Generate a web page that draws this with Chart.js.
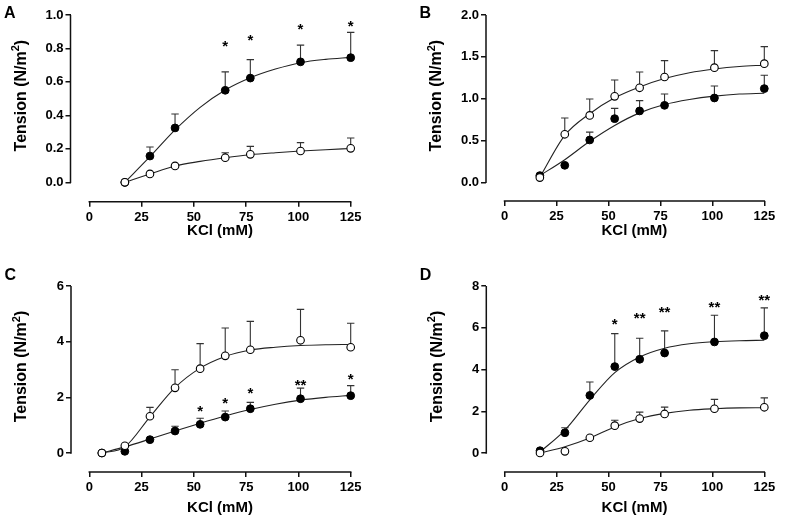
<!DOCTYPE html>
<html>
<head>
<meta charset="utf-8">
<script src="https://cdn.jsdelivr.net/npm/chart.js@4.4.1/dist/chart.umd.min.js"></script>
<style>
  body { margin: 0; background: #fff; }
  #fig { position: relative; width: 785px; height: 524px; }
  #fig canvas { position: absolute; }
</style>
</head>
<body>
<div id="fig">
  <canvas id="panelA" width="392" height="262" style="left:0;top:0"></canvas>
  <canvas id="panelB" width="393" height="262" style="left:392px;top:0"></canvas>
  <canvas id="panelC" width="392" height="262" style="left:0;top:262px"></canvas>
  <canvas id="panelD" width="393" height="262" style="left:392px;top:262px"></canvas>
</div>
<script>
// shared
const xTicks = [0, 25, 50, 75, 100, 125];
const fitX = [17, 29, 41, 53, 65, 77, 89, 101, 113, 125];

// panel A
const kclA = [17, 29, 41, 65, 77, 101, 125];
const openA = [0, 0.05, 0.098, 0.147, 0.167, 0.187, 0.203];
const openSemA = [0, 0, 0, 0.03, 0.048, 0.05, 0.062];
const filledA = [0, 0.157, 0.325, 0.55, 0.623, 0.72, 0.745];
const filledSemA = [0, 0.054, 0.083, 0.11, 0.11, 0.10, 0.151];
const fitOpenA = [0, 0.05, 0.097, 0.125, 0.147, 0.165, 0.177, 0.187, 0.195, 0.202];
const fitFilledA = [0, 0.153, 0.313, 0.448, 0.552, 0.625, 0.677, 0.715, 0.735, 0.747];
const starXA = [65, 77, 101, 125];
const starYA = [0.84, 0.876, 0.94, 0.954];
const starTextA = ['*', '*', '*', '*'];
const yTicksA = [0, 0.2, 0.4, 0.6, 0.8, 1.0];

// panel B
const kclB = [17, 29, 41, 53, 65, 77, 101, 125];
const openB = [0.056, 0.574, 0.80, 1.028, 1.13, 1.259, 1.37, 1.418];
const openSemB = [0, 0.195, 0.196, 0.195, 0.189, 0.195, 0.204, 0.204];
const filledB = [0.08, 0.203, 0.506, 0.761, 0.853, 0.92, 1.008, 1.12];
const filledSemB = [0, 0, 0.094, 0.123, 0.123, 0.136, 0.143, 0.159];
const fitOpenB = [0.06, 0.56, 0.82, 1.01, 1.14, 1.24, 1.31, 1.355, 1.385, 1.40];
const fitFilledB = [0.08, 0.27, 0.49, 0.68, 0.83, 0.93, 0.99, 1.03, 1.055, 1.065];
const yTicksB = [0, 0.5, 1.0, 1.5, 2.0];

// panel C
const kclC = [6, 17, 29, 41, 53, 65, 77, 101, 125];
const openC = [0, 0.26, 1.32, 2.34, 3.03, 3.49, 3.71, 4.05, 3.80];
const openSemC = [0, 0, 0.32, 0.65, 0.9, 1.0, 1.02, 1.11, 0.86];
const filledC = [0, 0.06, 0.48, 0.79, 1.03, 1.29, 1.59, 1.95, 2.06];
const filledSemC = [0, 0, 0, 0.17, 0.22, 0.22, 0.23, 0.38, 0.36];
const fitXC = [6, 17, 29, 41, 53, 65, 77, 89, 101, 113, 125];
const fitOpenC = [0, 0.22, 1.3, 2.35, 3.05, 3.47, 3.7, 3.8, 3.86, 3.89, 3.9];
const fitFilledC = [0, 0.22, 0.5, 0.79, 1.07, 1.33, 1.56, 1.75, 1.9, 2.0, 2.07];
const starXC = [53, 65, 77, 101, 125];
const starYC = [1.63, 1.95, 2.31, 2.58, 2.79];
const starTextC = ['*', '*', '*', '**', '*'];
const yTicksC = [0, 2, 4, 6];

// panel D
const kclD = [17, 29, 41, 53, 65, 77, 101, 125];
const openD = [0, 0.08, 0.73, 1.31, 1.65, 1.87, 2.12, 2.19];
const openSemD = [0, 0, 0, 0.26, 0.31, 0.33, 0.45, 0.45];
const filledD = [0.11, 0.97, 2.76, 4.14, 4.49, 4.79, 5.32, 5.62];
const filledSemD = [0, 0.24, 0.64, 1.58, 1.01, 1.06, 1.28, 1.33];
const fitOpenD = [0, 0.3, 0.72, 1.25, 1.65, 1.9, 2.05, 2.12, 2.16, 2.17];
const fitFilledD = [0.05, 1.1, 2.55, 3.85, 4.6, 5.02, 5.23, 5.33, 5.38, 5.4];
const starXD = [53, 65, 77, 101, 125];
const starYD = [6.36, 6.66, 6.92, 7.16, 7.51];
const starTextD = ['*', '**', '**', '**', '**'];
const yTicksD = [0, 2, 4, 6, 8];

const FONT = '"Liberation Sans", Arial, sans-serif';

function pts(xs, ys) {
    return xs.map((x, i) => ({x: x, y: ys[i]}));
}

// error bars, offset axis lines, labels and stars
const decor = {
    id: 'decor',
    beforeDatasetsDraw(chart, args, o) {
        const ctx = chart.ctx, xs = chart.scales.x, ys = chart.scales.y;
        const area = chart.chartArea;
        ctx.save();
        ctx.strokeStyle = '#111';
        ctx.lineWidth = 1.5;
        ctx.beginPath();
        ctx.moveTo(area.left, ys.getPixelForValue(0) + 0.75);
        ctx.lineTo(area.left, ys.getPixelForValue(ys.max));
        ctx.moveTo(xs.getPixelForValue(0) - 0.75, area.bottom);
        ctx.lineTo(xs.getPixelForValue(xs.max) + 0.75, area.bottom);
        ctx.stroke();

        ctx.strokeStyle = '#333';
        ctx.lineWidth = 1.1;
        o.errors.forEach(e => {
            e.x.forEach((xv, i) => {
                if (!e.sem[i]) return;
                const px = xs.getPixelForValue(xv);
                const py = ys.getPixelForValue(e.y[i]);
                const pt = ys.getPixelForValue(e.y[i] + e.sem[i]);
                ctx.beginPath();
                ctx.moveTo(px, py);
                ctx.lineTo(px, pt);
                ctx.moveTo(px - 3.7, pt);
                ctx.lineTo(px + 3.7, pt);
                ctx.stroke();
            });
        });
        ctx.restore();
    },
    afterDraw(chart, args, o) {
        const ctx = chart.ctx, xs = chart.scales.x, ys = chart.scales.y;
        const area = chart.chartArea;
        ctx.save();
        ctx.fillStyle = '#000';

        ctx.font = 'bold 16px ' + FONT;
        ctx.textAlign = 'left';
        ctx.textBaseline = 'alphabetic';
        ctx.fillText(o.letter, area.left - 66.5, 17.5);

        // x title
        ctx.font = 'bold 15px ' + FONT;
        ctx.textAlign = 'center';
        const xMid = (xs.getPixelForValue(0) + xs.getPixelForValue(xs.max)) / 2;
        ctx.fillText('KCl (mM)', xMid, area.bottom + o.titleGap);

        // y title, with a real superscript 2
        const yMid = (ys.getPixelForValue(0) + ys.getPixelForValue(ys.max)) / 2 - 3;
        const big = 'bold 16px ' + FONT, small = 'bold 11px ' + FONT;
        ctx.font = big;
        const w1 = ctx.measureText('Tension (N/m').width, w3 = ctx.measureText(')').width;
        ctx.font = small;
        const w2 = ctx.measureText('2').width;
        const total = w1 + w2 + w3;
        ctx.save();
        ctx.translate(area.left - 44.8, yMid);
        ctx.rotate(-Math.PI / 2);
        ctx.textAlign = 'left';
        ctx.font = big;
        ctx.fillText('Tension (N/m', -total / 2, 0);
        ctx.font = small;
        ctx.fillText('2', -total / 2 + w1, -6.5);
        ctx.font = big;
        ctx.fillText(')', -total / 2 + w1 + w2, 0);
        ctx.restore();

        // significance stars
        ctx.font = 'bold 15px ' + FONT;
        ctx.textAlign = 'center';
        o.stars.x.forEach((xv, i) => {
            ctx.fillText(o.stars.text[i], xs.getPixelForValue(xv), ys.getPixelForValue(o.stars.y[i]) + 8.8);
        });
        ctx.restore();
    }
};

function makePanel(id, p) {
    const xMin = -(p.zeroX - p.axisLeft) * 125 / (p.right - p.zeroX);
    const yMax = p.yTicks[p.yTicks.length - 1];
    const yMin = -(p.axisBottom - p.zeroY) * yMax / (p.zeroY - p.top);
    const tickFont = {family: FONT, size: 13, weight: 'bold'};

    new Chart(document.getElementById(id), {
        type: 'scatter',
        data: {
            datasets: [
                {
                    data: pts(p.kcl, p.open),
                    pointRadius: 3.8,
                    pointBackgroundColor: '#fff',
                    pointBorderColor: '#000',
                    pointBorderWidth: 1.1,
                    clip: false
                },
                {
                    data: pts(p.kcl, p.filled),
                    pointRadius: 3.9,
                    pointBackgroundColor: '#000',
                    pointBorderColor: '#000',
                    pointBorderWidth: 1,
                    clip: false
                },
                {
                    data: pts(p.fitX, p.fitOpen),
                    showLine: true,
                    pointRadius: 0,
                    borderColor: '#222',
                    borderWidth: 1.1,
                    cubicInterpolationMode: 'monotone',
                    clip: false
                },
                {
                    data: pts(p.fitX, p.fitFilled),
                    showLine: true,
                    pointRadius: 0,
                    borderColor: '#222',
                    borderWidth: 1.1,
                    cubicInterpolationMode: 'monotone',
                    clip: false
                }
            ]
        },
        options: {
            responsive: false,
            animation: false,
            events: [],
            layout: {padding: {left: 0, right: p.width - p.right, top: p.top, bottom: 0}},
            plugins: {
                legend: {display: false},
                tooltip: {enabled: false},
                decor: {
                    letter: p.letter,
                    titleGap: p.titleGap,
                    errors: [
                        {x: p.kcl, y: p.open, sem: p.openSem},
                        {x: p.kcl, y: p.filled, sem: p.filledSem}
                    ],
                    stars: p.stars
                }
            },
            scales: {
                x: {
                    type: 'linear',
                    position: 'bottom',
                    min: xMin,
                    max: 125,
                    afterBuildTicks: s => { s.ticks = xTicks.map(v => ({value: v})); },
                    afterFit: s => { s.height = 262 - p.axisBottom; },
                    border: {display: false},
                    grid: {drawOnChartArea: false, tickLength: 5, color: '#111', lineWidth: 1.5},
                    ticks: {font: tickFont, color: '#000', padding: 3, maxRotation: 0}
                },
                y: {
                    type: 'linear',
                    position: 'left',
                    min: yMin,
                    max: yMax,
                    afterBuildTicks: s => { s.ticks = p.yTicks.map(v => ({value: v})); },
                    afterFit: s => { s.width = p.axisLeft; },
                    border: {display: false},
                    grid: {drawOnChartArea: false, tickLength: 5, color: '#111', lineWidth: 1.5},
                    ticks: {
                        font: tickFont,
                        color: '#000',
                        padding: 2,
                        callback: v => v.toFixed(p.decimals)
                    }
                }
            }
        },
        plugins: [decor]
    });
}

makePanel('panelA', {
    letter: 'A', width: 392, axisLeft: 70.5, zeroX: 89.3, right: 350.7,
    top: 15, zeroY: 182.3, axisBottom: 201.7, titleGap: 33.5, decimals: 1,
    kcl: kclA, open: openA, openSem: openSemA, filled: filledA, filledSem: filledSemA,
    fitX: fitX, fitOpen: fitOpenA, fitFilled: fitFilledA, yTicks: yTicksA,
    stars: {x: starXA, y: starYA, text: starTextA}
});

makePanel('panelB', {
    letter: 'B', width: 393, axisLeft: 94, zeroX: 112.5, right: 372.3,
    top: 15, zeroY: 182.3, axisBottom: 201, titleGap: 34, decimals: 1,
    kcl: kclB, open: openB, openSem: openSemB, filled: filledB, filledSem: filledSemB,
    fitX: fitX, fitOpen: fitOpenB, fitFilled: fitFilledB, yTicks: yTicksB,
    stars: {x: [], y: [], text: []}
});

makePanel('panelC', {
    letter: 'C', width: 392, axisLeft: 71, zeroX: 89.3, right: 350.7,
    top: 24, zeroY: 191, axisBottom: 210, titleGap: 40, decimals: 0,
    kcl: kclC, open: openC, openSem: openSemC, filled: filledC, filledSem: filledSemC,
    fitX: fitXC, fitOpen: fitOpenC, fitFilled: fitFilledC, yTicks: yTicksC,
    stars: {x: starXC, y: starYC, text: starTextC}
});

makePanel('panelD', {
    letter: 'D', width: 393, axisLeft: 94.3, zeroX: 112.7, right: 372.3,
    top: 24, zeroY: 191, axisBottom: 210, titleGap: 40, decimals: 0,
    kcl: kclD, open: openD, openSem: openSemD, filled: filledD, filledSem: filledSemD,
    fitX: fitX, fitOpen: fitOpenD, fitFilled: fitFilledD, yTicks: yTicksD,
    stars: {x: starXD, y: starYD, text: starTextD}
});
</script>
</body>
</html>
